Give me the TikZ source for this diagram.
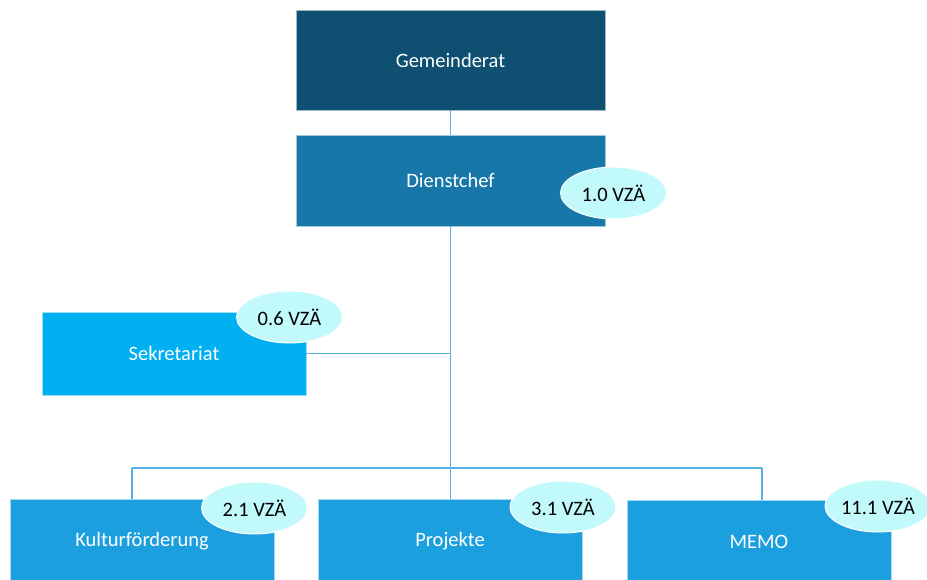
\documentclass[tikz,border=0pt]{standalone}
\usepackage{fontspec}
\setmainfont{Carlito}
\usetikzlibrary{shapes.geometric}
\definecolor{cgem}{HTML}{0F4F71}
\definecolor{cdc}{HTML}{1677A8}
\definecolor{csek}{HTML}{00B0F0}
\definecolor{cbot}{HTML}{1C9FDF}
\definecolor{cell}{HTML}{C2FAFC}
\definecolor{cline}{HTML}{55B2E6}
\tikzset{
  orgbox/.style={rectangle, inner sep=0pt, text=white, font=\fontsize{20.5}{24}\selectfont, draw=white!60!#1, line width=0.6pt, fill=#1},
  vza/.style={ellipse, inner sep=0pt, minimum width=106pt, minimum height=52pt, fill=cell, draw=white, line width=1pt, text=black, font=\fontsize{20.5}{24}\selectfont},
  conn/.style={draw=cline, line width=1.4pt}
}
\begin{document}
\begin{tikzpicture}[x=1pt, y=-1pt]
\clip (0,0) rectangle (927,580);
\fill[white] (0,0) rectangle (927,580);
% boxes
\node[orgbox=cgem, minimum width=309pt, minimum height=100pt] (gem) at (450.5,60) {Gemeinderat};
\node[orgbox=cdc, minimum width=309pt, minimum height=91pt] (dc) at (450.5,180.5) {Dienstchef};
\node[orgbox=csek, minimum width=264pt, minimum height=83pt] (sek) at (174,353.5) {Sekretariat};
\node[orgbox=cbot, minimum width=264pt, minimum height=84pt] (kul) at (142,541) {Kulturförderung};
\node[orgbox=cbot, minimum width=264pt, minimum height=84pt] (proj) at (450,541) {Projekte};
\node[orgbox=cbot, minimum width=264pt, minimum height=84pt] (mem) at (759,542) {MEMO};
% connectors
\coordinate (bl) at (132,468);
\coordinate (br) at (762,468);
\draw[conn] (gem.south) -- (dc.north);
\draw[conn] (dc.south) -- (dc.south |- proj.north);
\draw[conn] (sek.east) -- (sek.east -| dc.south);
\draw[conn] (bl) -- (br);
\draw[conn] (bl) -- (bl |- kul.north);
\draw[conn] (br) -- (br |- mem.north);
% ellipses
\node[vza] (e1) at (613.5,193) {1.0 VZÄ};
\node[vza] (e2) at (289.5,317) {0.6 VZÄ};
\node[vza] (e3) at (254.5,508) {2.1 VZÄ};
\node[vza] (e4) at (563,507) {3.1 VZÄ};
\node[vza] (e5) at (878,506) {11.1 VZÄ};
\end{tikzpicture}
\end{document}
